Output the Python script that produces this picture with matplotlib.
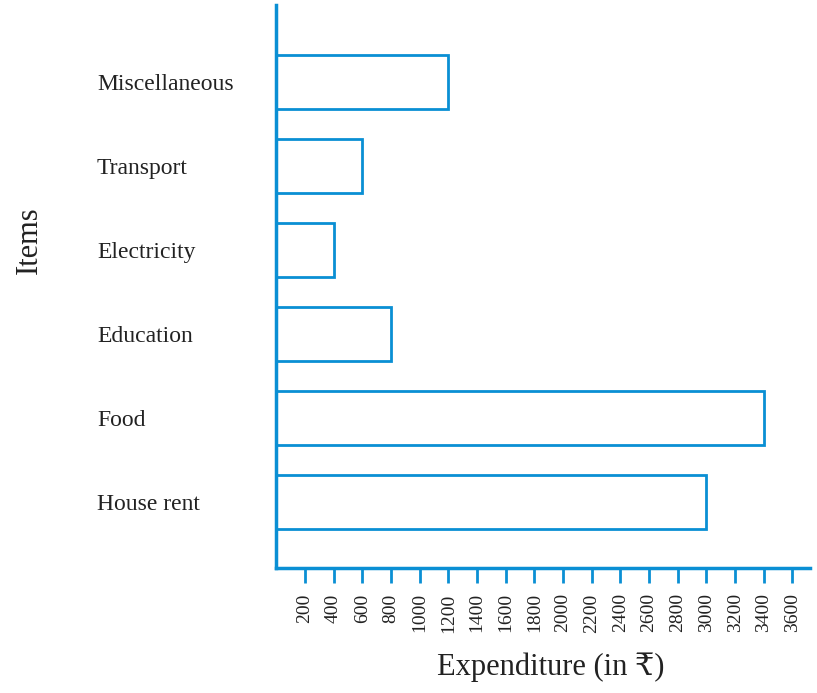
import matplotlib.pyplot as plt

# data
items = ['House rent', 'Food', 'Education', 'Electricity', 'Transport', 'Miscellaneous']
expenditure = [3000, 3400, 800, 400, 600, 1200]
x_ticks = [200, 400, 600, 800, 1000, 1200, 1400, 1600, 1800, 2000,
           2200, 2400, 2600, 2800, 3000, 3200, 3400, 3600]

blue = '#0a8fd4'
serif = ['Liberation Serif', 'DejaVu Serif', 'DejaVu Sans']
plt.rcParams['font.family'] = serif

fig = plt.figure(figsize=(8.17, 6.93), dpi=100)
ax = fig.add_axes([0.338, 0.180, 0.653, 0.813])

pos = range(len(items))
ax.barh(pos, expenditure, height=0.64, facecolor='white', edgecolor=blue, linewidth=2)

ax.set_xlim(0, 3720)
ax.set_ylim(-0.786, 5.917)

for s in ['top', 'right']:
    ax.spines[s].set_visible(False)
for s in ['left', 'bottom']:
    ax.spines[s].set_color(blue)
    ax.spines[s].set_linewidth(2.5)

ax.set_xticks(x_ticks)
ax.set_xticklabels([str(t) for t in x_ticks], rotation=90, fontsize=14, color='#222222')
ax.tick_params(axis='x', length=11, width=2, color=blue, pad=7)

ax.set_yticks(list(pos))
ax.set_yticklabels(items, fontsize=17, color='#222222', ha='left')
ax.tick_params(axis='y', length=0, pad=129)

ax.set_xlabel('Expenditure (in ₹)', fontsize=22, color='#222222')
ax.xaxis.set_label_coords(0.515, -0.15)
ax.set_ylabel('Items', fontsize=22, color='#222222')
ax.yaxis.set_label_coords(-0.435, 0.583)

plt.savefig('out.png', dpi=100)
